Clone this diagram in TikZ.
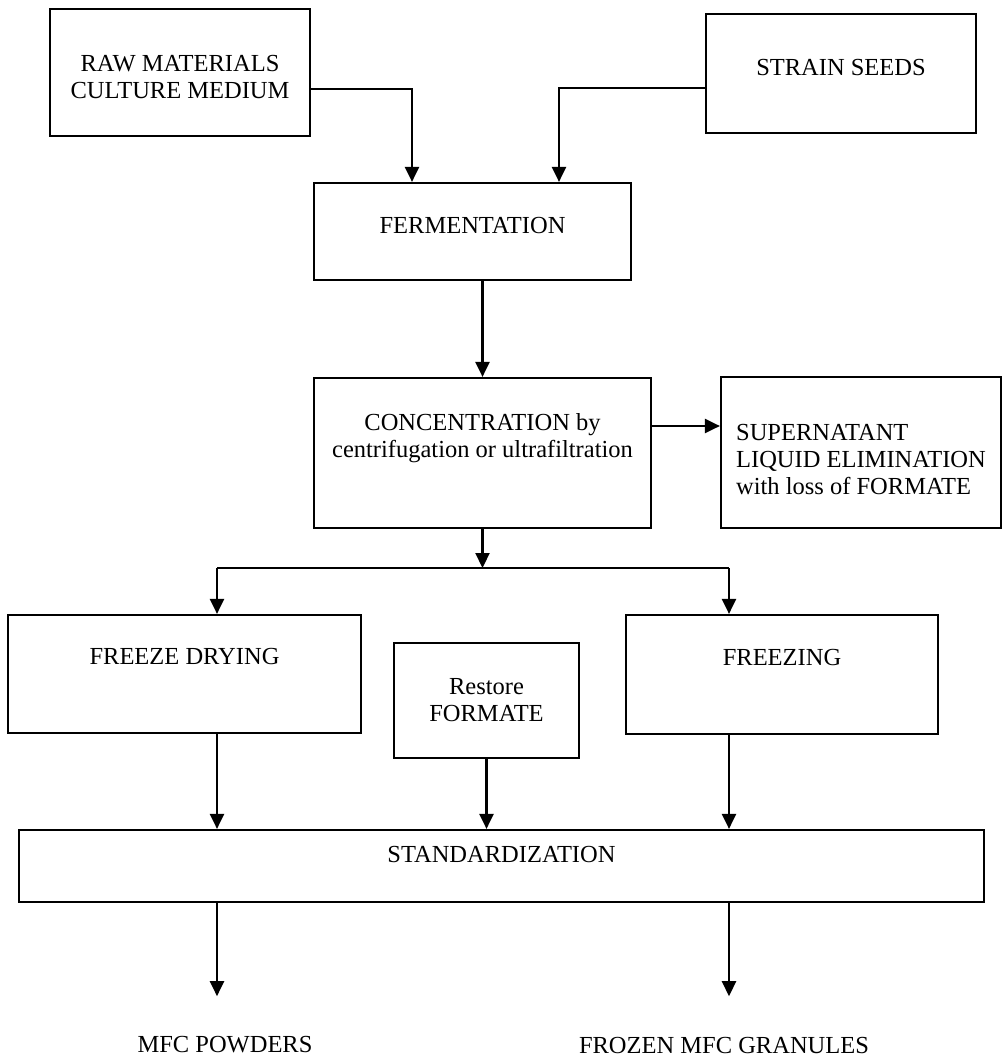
\documentclass[tikz,border=0pt]{standalone}
\usepackage{fontspec}
\setmainfont{Liberation Serif}
\usetikzlibrary{arrows.meta}

\begin{document}
\begin{tikzpicture}[x=1pt,y=-1pt,
      font=\fontsize{24.5}{27}\selectfont,
      >={Triangle[length=15pt,width=14pt]},
      box/.style ={draw,line width=2.2pt,align=center,inner sep=0pt},
      flow/.style={->,line width=2.2pt}]
      \useasboundingbox (0,0) rectangle (1004,1057);

      % Inputs
      \node[box,minimum width=260pt,minimum height=127pt,text height=53pt] (raw) at (180,72.5) {RAW MATERIALS\\CULTURE MEDIUM};
      \node[box,minimum width=270pt,minimum height=119pt,text depth=12.5pt] (seeds) at (841,73.5) {STRAIN SEEDS};

      % Process steps
      \node[box,minimum width=317pt,minimum height=97pt,text depth=12.5pt] (ferm) at (472.5,231.5) {FERMENTATION};
      \node[box,minimum width=337pt,minimum height=150pt,text depth=36pt] (conc) at (482.5,453) {CONCENTRATION by\\centrifugation or ultrafiltration};
      \node[box,align=left,minimum width=280pt,minimum height=151pt,text height=85pt] (super) at (861,452.5) {SUPERNATANT\\LIQUID ELIMINATION\\with loss of FORMATE};
      \node[box,minimum width=353pt,minimum height=118pt,text depth=34.5pt] (fdry) at (184.5,674) {FREEZE DRYING};
      \node[box,minimum width=185pt,minimum height=115pt] (restore) at (486.5,700.5) {Restore\\FORMATE};
      \node[box,minimum width=312pt,minimum height=119pt,text depth=34.5pt] (frz) at (782,674.5) {FREEZING};
      \node[box,minimum width=965pt,minimum height=72pt,text depth=22.5pt] (stand) at (501.5,866) {STANDARDIZATION};

      % Products
      \node (powder) at (225,1045) {MFC POWDERS};
      \node (granule) at (724,1045) {FROZEN MFC GRANULES};

      % Feed lines
      \draw[flow] ([yshift=-16.5pt]raw.east) -| ([xshift=-60.5pt]ferm.north);
      \draw[flow] ([yshift=-14.5pt]seeds.west) -| ([xshift=86.5pt]ferm.north);
      \draw[flow] (conc.north |- ferm.south) -- (conc.north);
      \coordinate (cs) at ([yshift=27pt]conc.east);
      \draw[flow] (cs) -- (cs -| super.west);

      % Split into the two routes
      \coordinate (split) at (482.5,568);
      \coordinate (tl) at (217,568);
      \coordinate (tr) at (729,568);
      \draw[flow] (conc.south) -- (split);
      \draw[line width=2.2pt] (tl) -- (tr);
      \draw[flow] (tl) -- (tl |- fdry.north);
      \draw[flow] (tr) -- (tr |- frz.north);

      % Into standardization and out
      \draw[flow] (tl |- fdry.south) -- (tl |- stand.north);
      \draw[flow] (restore.south) -- (restore.south |- stand.north);
      \draw[flow] (tr |- frz.south) -- (tr |- stand.north);
      \draw[flow,shorten >=37pt] (tl |- stand.south) -- (tl |- powder.north);
      \draw[flow,shorten >=37pt] (tr |- stand.south) -- (tr |- granule.north);
\end{tikzpicture}
\end{document}
